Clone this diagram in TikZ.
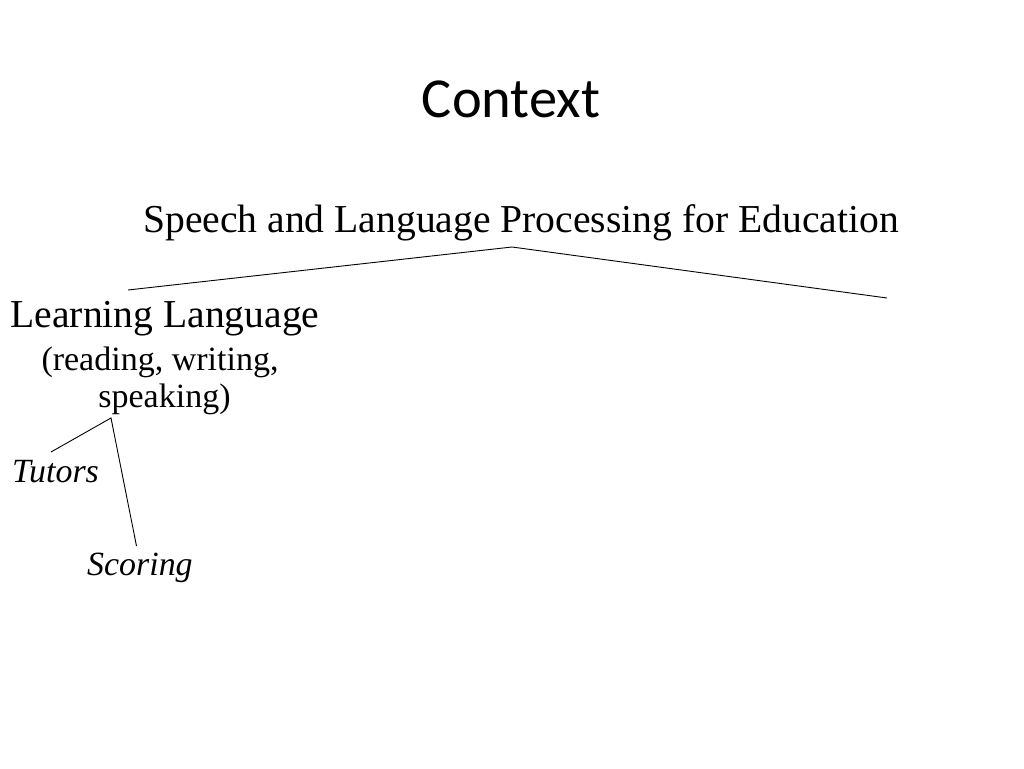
\documentclass[tikz,border=0pt]{standalone}
\usepackage{fontspec}
\setmainfont{Liberation Serif}
\newfontfamily\titlefont{Carlito}
\begin{document}
\begin{tikzpicture}[x=1pt,y=-1pt,
  txt/.style={inner sep=0pt, anchor=base},
  branch/.style={draw=black, line width=0.9pt},
  big/.style={font=\fontsize{39.6}{44}\selectfont},
  mid/.style={font=\fontsize{34}{38}\selectfont},
  leaf/.style={font=\fontsize{33.9}{36}\selectfont\itshape}]
\useasboundingbox[fill=white] (0,0) rectangle (1024,768);
\node[txt, font=\fontsize{56.5}{60}\selectfont\titlefont] (title) at (511,117) {Context};
\node[txt, big] (root) at (521,232) {Speech and Language Processing for Education};
\node[txt, big] (learn) at (165,327) {Learning Language};
\node[txt, mid] (sub1) at (160,370) {(reading, writing,};
\node[txt, mid] (sub2) at (164.5,407) {speaking)};
\node[txt, leaf, anchor=base west] (tutors) at (12,482) {Tutors};
\node[txt, leaf, anchor=base west] (scoring) at (87,575) {Scoring};
\coordinate (apex) at (512,247);
\coordinate (leftend) at (128,290);
\coordinate (rightend) at (887,298);
\coordinate (subapex) at (111,418);
\coordinate (tutend) at (51,452);
\coordinate (scoend) at (136.5,546);
\draw[branch] (leftend) -- (apex) -- (rightend);
\draw[branch] (tutend) -- (subapex) -- (scoend);
\end{tikzpicture}
\end{document}
